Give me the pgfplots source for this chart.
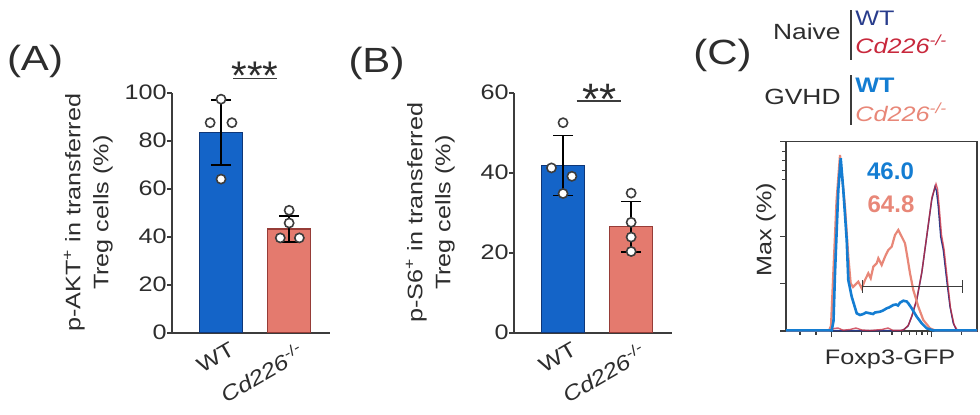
\documentclass[border=0pt]{standalone}
\usepackage{fontspec}
\setmainfont{Liberation Sans}[FakeStretch=1.2]
\newfontfamily\plainsans{Liberation Sans}
\usepackage{pgfplots}
\pgfplotsset{compat=1.18}
\definecolor{textgray}{RGB}{45,45,45}
\definecolor{axisgray}{RGB}{60,60,60}
\definecolor{barblue}{RGB}{20,100,200}
\definecolor{barblueedge}{RGB}{15,55,120}
\definecolor{barsalmon}{RGB}{228,122,110}
\definecolor{barsalmonedge}{RGB}{150,60,55}
\definecolor{navy}{RGB}{40,60,140}
\definecolor{crimson}{RGB}{200,40,60}
\definecolor{brightblue}{RGB}{20,125,210}
\definecolor{salmon}{RGB}{232,135,120}
\pgfplotsset{
  barax/.style={
    anchor=south west, scale only axis, width=79pt, height=120pt,
    axis lines=left, axis line style={-, draw=axisgray, line width=0.8pt},
    xmin=-0.72, xmax=1.6, ymin=0,
    xtick={0,1}, xticklabels={WT,{\itshape Cd226}\textsuperscript{-/-}},
    xtick style={draw=none},
    ytick pos=left, tick align=outside, major tick length=2.5pt,
    ytick style={draw=axisgray, line width=0.8pt},
    tick label style={font=\fontsize{10.5}{12}\selectfont, text=textgray},
    /pgf/number format/assume math mode=true,
    xticklabel style={xshift=4pt, yshift=-1.5pt, rotate=30, anchor=north east, inner sep=0pt},
    yticklabel style={inner sep=0pt},
    ylabel style={font=\fontsize{10.5}{14}\selectfont, text=textgray, align=center,
      at={(axis description cs:-0.373,0.5)}, anchor=south, inner sep=0pt},
    clip=false,
  },
  errstyle/.style={draw=none, mark=none, forget plot,
    error bars/.cd, y dir=both, y explicit, error mark=none,
    error bar style={draw=black, solid, line width=0.9pt}},
  capstyle/.style={only marks, mark=-, mark size=5pt, forget plot,
    mark options={draw=black, solid, line width=0.9pt}},
  dotstyle/.style={only marks, mark=*, mark size=2.3pt,
    mark options={fill=white, draw=axisgray, line width=0.8pt, solid}},
}
\begin{document}
\begin{tikzpicture}[x=0.5pt,y=0.5pt]
\path[use as bounding box] (0,0) rectangle (980,414);

% Panel letters
\node[font=\fontsize{17.5}{20}\selectfont, text=textgray] at (35,352.5) {(A)};
\node[font=\fontsize{17.5}{20}\selectfont, text=textgray] at (376.5,351) {(B)};
\node[font=\fontsize{17.5}{20}\selectfont, text=textgray] at (722.5,359) {(C)};

% ---------------- Panel A ----------------
\begin{axis}[barax, at={(86pt,40.65pt)}, ymax=100, ytick={0,20,40,60,80,100},
  ylabel={p-AKT\textsuperscript{+} in transferred\\Treg cells (\%)}]
\addplot[ybar, bar shift=0pt, bar width=21.5pt, fill=barblue, draw=barblueedge, line width=0.6pt] coordinates {(0,83.5)};
\addplot[ybar, bar shift=0pt, bar width=21.5pt, fill=barsalmon, draw=barsalmonedge, line width=0.6pt] coordinates {(1,43.2)};
\addplot[errstyle] coordinates {(0,83.5) +- (0,13.6) (1,43.2) +- (0,5.5)};
\addplot[capstyle] coordinates {(0,97.1) (0,69.9) (1,48.7) (1,37.7)};
\addplot[dotstyle] coordinates {(0,97.3) (-0.16,87.5) (0.16,87.5) (0,64) (1,51) (1,45.7) (0.87,39.5) (1.15,39.5)};
\node[anchor=base, font=\plainsans\fontsize{20}{20}\selectfont, text=textgray] at (axis cs:0.5,101.4) {***};
\draw[axisgray, line width=0.7pt] (axis cs:0.18,106) -- (axis cs:0.82,106);
\end{axis}

% ---------------- Panel B ----------------
\begin{axis}[barax, at={(257pt,40.65pt)}, ymax=60, ytick={0,20,40,60},
  ylabel={p-S6\textsuperscript{+} in transferred\\Treg cells (\%)}]
\addplot[ybar, bar shift=0pt, bar width=21.5pt, fill=barblue, draw=barblueedge, line width=0.6pt] coordinates {(0,41.8)};
\addplot[ybar, bar shift=0pt, bar width=21.5pt, fill=barsalmon, draw=barsalmonedge, line width=0.6pt] coordinates {(1,26.5)};
\addplot[errstyle] coordinates {(0,41.8) +- (0,7.5) (1,26.5) +- (0,6.3)};
\addplot[capstyle] coordinates {(0,49.3) (0,34.3) (1,32.8) (1,20.2)};
\addplot[dotstyle] coordinates {(0,52.5) (-0.17,41.2) (0.13,39.1) (0,34.8) (1,34.9) (1,27.6) (1,23.9) (1,20.3)};
\node[anchor=base, font=\plainsans\fontsize{22}{22}\selectfont, text=textgray] at (axis cs:0.54,54.5) {**};
\draw[axisgray, line width=0.7pt] (axis cs:0.2,57.9) -- (axis cs:0.85,57.9);
\end{axis}

% ---------------- Panel C legend ----------------
\node[anchor=east, font=\fontsize{11}{12}\selectfont, text=textgray, inner sep=0pt] at (841,382) {Naive};
\draw[axisgray, line width=0.6pt] (851,404) -- (851,354);
\node[anchor=west, font=\fontsize{10.5}{12}\selectfont, text=navy, inner sep=0pt] at (855,396) {WT};
\node[anchor=west, font=\fontsize{10.5}{12}\selectfont, text=crimson, inner sep=0pt] at (855,370) {\itshape Cd226\textsuperscript{-/-}};
\node[anchor=east, font=\fontsize{11}{12}\selectfont, text=textgray, inner sep=0pt] at (841,317) {GVHD};
\draw[axisgray, line width=0.6pt] (851,339) -- (851,289);
\node[anchor=west, font=\fontsize{10.5}{12}\selectfont\bfseries, text=brightblue, inner sep=0pt] at (855,329) {WT};
\node[anchor=west, font=\fontsize{10.5}{12}\selectfont, text=salmon, inner sep=0pt] at (855,302) {\itshape Cd226\textsuperscript{-/-}};

% ---------------- Panel C histogram ----------------
\begin{axis}[at={(393pt,41.5pt)}, anchor=south west, scale only axis, width=95.5pt, height=94.65pt,
  xmin=786, xmax=977, ymin=0, ymax=189.3,
  axis line style={draw=axisgray, line width=0.7pt},
  xtick={831.7,931.7}, minor xtick={800,816,861.8,879.4,891.9,901.6,909.5,916.2,922,927.1,961.8},
  ytick={0,47.3,94.65,189.3}, minor ytick={151.4,160.9,170.4,179.8},
  xticklabels={}, yticklabels={},
  tick pos=left, tick align=outside, major tick length=3pt, minor tick length=1.8pt,
  tick style={draw=axisgray, line width=0.6pt},
  xlabel={Foxp3-GFP}, ylabel={Max (\%)},
  label style={font=\fontsize{10.5}{12}\selectfont, text=textgray},
  xlabel style={at={(axis description cs:0.545,-0.1)}, anchor=north, inner sep=0pt},
  ylabel style={at={(axis description cs:-0.052,0.534)}, anchor=south, inner sep=0pt},
  clip=false]
% Naive WT (navy)
\addplot[navy, line width=0.7pt] coordinates {(786,0.4) (900,0.4) (903.3,1) (908,5) (911.7,14.3) (916.7,31) (921.7,57.7) (926.7,94.3) (931.7,131) (935,144.3) (936.5,140) (938.3,124.3) (940.7,94.3) (943.3,81) (946.7,51) (950,24.3) (953.3,7.7) (956.7,0.4) (977,0.4)};
% Naive Cd226 (crimson)
\addplot[crimson, line width=0.7pt, opacity=0.75] coordinates {(786,0.4) (830,0.4) (834,2.5) (838,3) (843,0.8) (850,1.5) (856,3) (862,1) (870,0.5) (882,1.5) (888,3) (893,0.6) (901,0.6) (904,1.5) (908.5,6) (912,15.5) (917,33) (922,60) (927,97) (932,134) (936,147) (937.5,142) (939,126) (941.5,96) (944,82) (947.5,50) (950.5,23) (954,6.5) (957.5,0.4) (977,0.4)};
% GVHD Cd226 (salmon)
\addplot[salmon, line width=1.1pt] coordinates {(786,0.6) (829,0.6) (831,5) (833.3,58) (836.5,130) (840,176) (842.5,150) (845,124.3) (848.3,74.3) (850.7,47.7) (853,44) (855,46) (858.3,49.3) (861.7,42.7) (865,51) (868.3,57.7) (870.7,52.7) (873.3,64.3) (876.7,67.7) (878.3,72.7) (881.7,66) (885,74.3) (888.3,81) (891.7,84.3) (895,96) (898.3,101) (901.7,94.3) (905,87.7) (907.3,74.3) (910,57.7) (913.3,41) (918.3,24.3) (923.3,11) (930,2.7) (935,0.6) (977,0.6)};
% GVHD WT (bright blue)
\addplot[brightblue, line width=1.3pt] coordinates {(786,0.6) (831.7,0.6) (833.5,10) (835,58) (838.3,141) (840.7,172.7) (843.3,141) (846.7,91) (848.3,51) (851.7,34.3) (856.7,17.7) (860,16) (863.3,17) (866,18.5) (870,17.7) (873,17) (875,18.5) (880,19.3) (883,20.5) (886.7,22.7) (889,23.5) (893.3,26) (896,26.5) (898,25.5) (900,28.3) (903.3,30.3) (906.7,29.5) (908.3,27.7) (911.7,22.7) (916.7,14.3) (921.7,7.7) (926.7,2.7) (933.3,0.6) (977,0.6)};
% gate
\draw[axisgray, line width=0.6pt, |-|] (axis cs:861.7,44.3) -- (axis cs:963.3,44.3);
\node[font=\plainsans\bfseries\fontsize{12}{12}\selectfont, text=brightblue] at (axis cs:890.5,160) {46.0};
\node[font=\plainsans\bfseries\fontsize{12}{12}\selectfont, text=salmon] at (axis cs:891,127) {64.8};
\end{axis}
\end{tikzpicture}
\end{document}
